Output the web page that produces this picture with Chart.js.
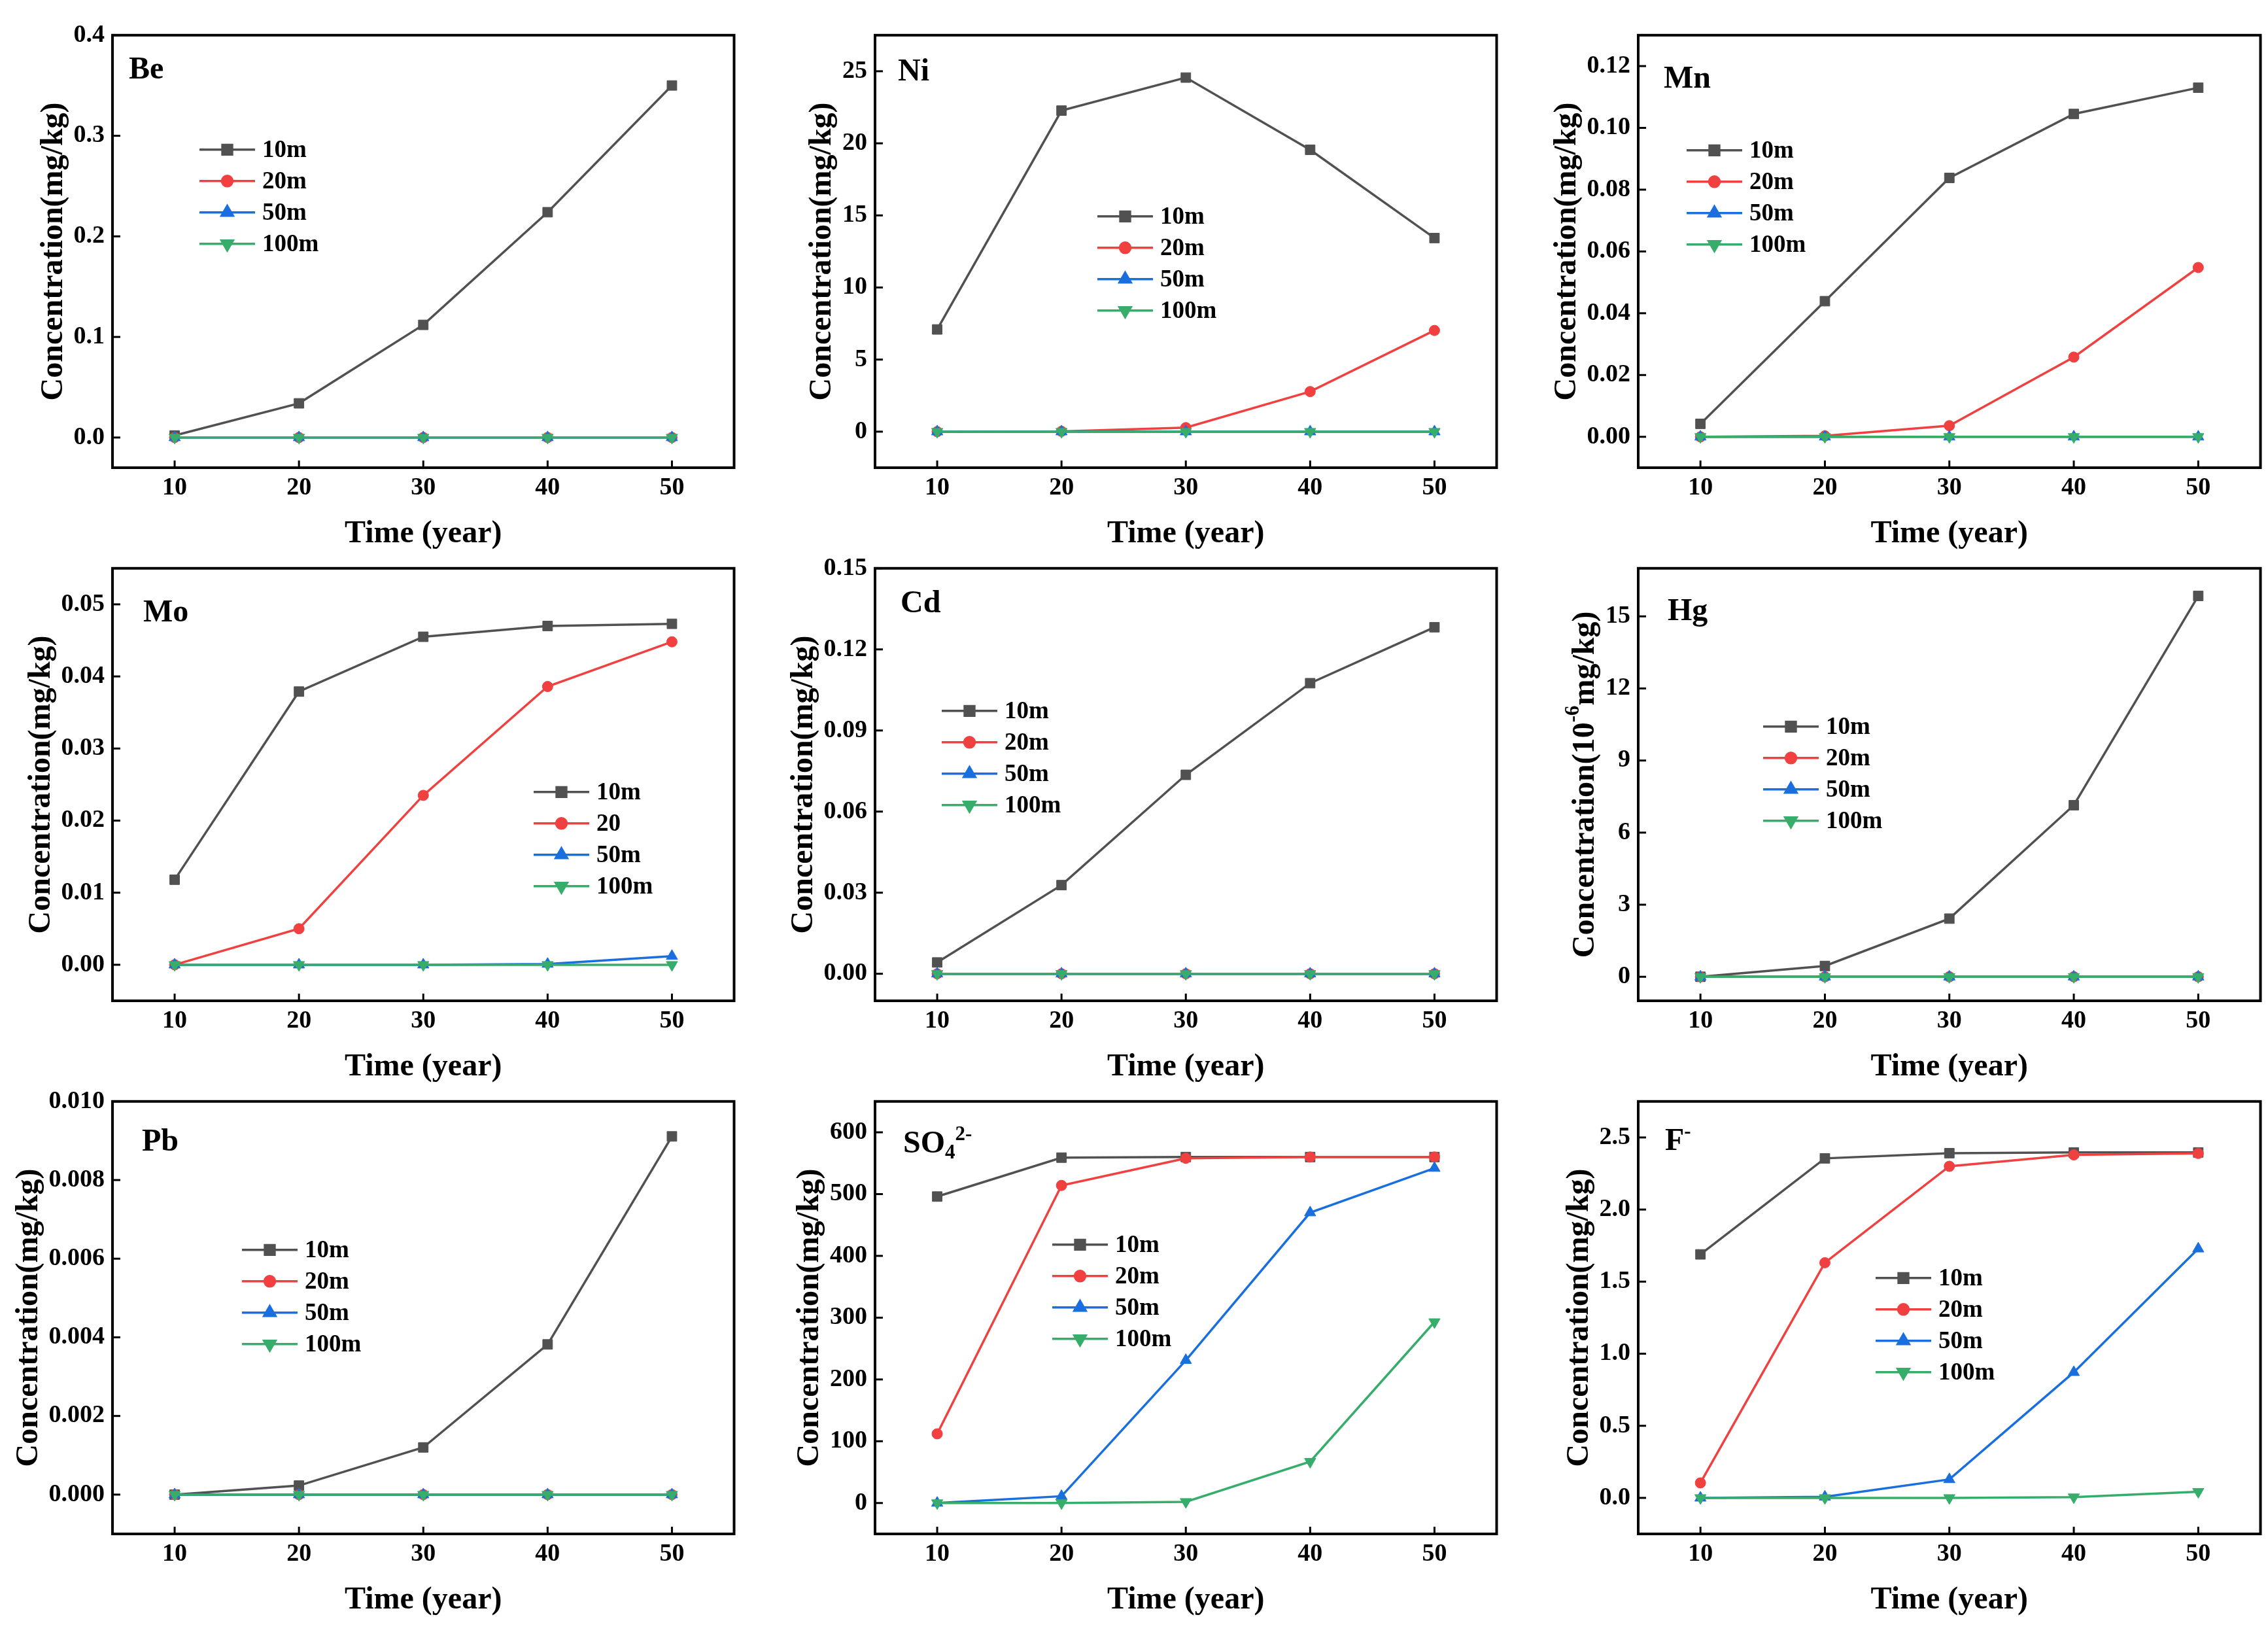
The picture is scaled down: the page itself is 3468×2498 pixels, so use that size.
<!DOCTYPE html>
<html>
<head>
<meta charset="utf-8">
<title>Concentration vs time</title>
<script src="https://cdn.jsdelivr.net/npm/chart.js@4.4.0/dist/chart.umd.min.js"></script>
<style>
  html, body { margin: 0; padding: 0; background: #fff; }
  body { width: 3468px; height: 2498px; position: relative; overflow: hidden; }
  canvas { position: absolute; }
</style>
</head>
<body>
<script>
// ---- data ----
const years = [10, 20, 30, 40, 50];
const xTicks = [10, 20, 30, 40, 50];
const xRange = [5, 55];
const depths = ['10m', '20m', '50m', '100m'];
const moLabels = ['10m', '20', '50m', '100m'];

const be10 = [0.002, 0.034, 0.112, 0.224, 0.350];
const be20 = [0, 0, 0, 0, 0];
const be50 = [0, 0, 0, 0, 0];
const be100 = [0, 0, 0, 0, 0];
const beTicks = ['0.0', '0.1', '0.2', '0.3', '0.4'];
const beRange = [-0.03, 0.4];

const ni10 = [7.09, 22.27, 24.56, 19.55, 13.43];
const ni20 = [0, 0.02, 0.28, 2.78, 7.02];
const ni50 = [0, 0, 0, 0, 0];
const ni100 = [0, 0, 0, 0, 0];
const niTicks = ['0', '5', '10', '15', '20', '25'];
const niRange = [-2.5, 27.5];

const mn10 = [0.0042, 0.0439, 0.0838, 0.1045, 0.1130];
const mn20 = [0, 0.0003, 0.0036, 0.0258, 0.0548];
const mn50 = [0, 0, 0, 0, 0];
const mn100 = [0, 0, 0, 0, 0];
const mnTicks = ['0.00', '0.02', '0.04', '0.06', '0.08', '0.10', '0.12'];
const mnRange = [-0.01, 0.13];

const mo10 = [0.0118, 0.0379, 0.0455, 0.0470, 0.0473];
const mo20 = [0, 0.0050, 0.0235, 0.0386, 0.0448];
const mo50 = [0, 0, 0, 0.0001, 0.0012];
const mo100 = [0, 0, 0, 0, 0];
const moTicks = ['0.00', '0.01', '0.02', '0.03', '0.04', '0.05'];
const moRange = [-0.005, 0.055];

const cd10 = [0.0042, 0.0328, 0.0736, 0.1075, 0.1282];
const cd20 = [0, 0, 0, 0, 0];
const cd50 = [0, 0, 0, 0, 0];
const cd100 = [0, 0, 0, 0, 0];
const cdTicks = ['0.00', '0.03', '0.06', '0.09', '0.12', '0.15'];
const cdRange = [-0.01, 0.15];

const hg10 = [0, 0.45, 2.42, 7.14, 15.85];
const hg20 = [0, 0, 0, 0, 0];
const hg50 = [0, 0, 0, 0, 0];
const hg100 = [0, 0, 0, 0, 0];
const hgTicks = ['0', '3', '6', '9', '12', '15'];
const hgRange = [-1, 17];

const pb10 = [0, 0.00023, 0.0012, 0.00382, 0.00911];
const pb20 = [0, 0, 0, 0, 0];
const pb50 = [0, 0, 0, 0, 0];
const pb100 = [0, 0, 0, 0, 0];
const pbTicks = ['0.000', '0.002', '0.004', '0.006', '0.008', '0.010'];
const pbRange = [-0.001, 0.010];

const so10 = [496, 559, 560, 560, 560];
const so20 = [112, 514, 558, 560, 560];
const so50 = [0, 11, 231, 470, 542];
const so100 = [0, 0, 2, 67, 293];
const soTicks = ['0', '100', '200', '300', '400', '500', '600'];
const soRange = [-50, 650];

const f10 = [1.689, 2.355, 2.391, 2.396, 2.396];
const f20 = [0.104, 1.631, 2.300, 2.379, 2.389];
const f50 = [0, 0.007, 0.128, 0.871, 1.728];
const f100 = [0, 0, 0, 0.005, 0.043];
const fTicks = ['0.0', '0.5', '1.0', '1.5', '2.0', '2.5'];
const fRange = [-0.25, 2.75];

// ---- layout / style ----
const FAMILY = '"Liberation Serif", "Times New Roman", Times, serif';
const colors = ['#515151', '#F14040', '#1A6FDF', '#37AD6B'];
const marks = [
  {style: 'rect', r: 10.5, rot: 0},
  {style: 'circle', r: 8, rot: 0},
  {style: 'triangle', r: 10, rot: 0},
  {style: 'triangle', r: 10, rot: 180}
];
const colLeft = [0, 1160, 2308];
const plotLeft = [172, 1338, 2505];
const plotRight = [1124, 2290, 3458];
const rowTop = [54, 869, 1684];
const plotH = 666;
const padRight = 10, xAxisH = 135;

const concTitle = [{t: 'Concentration(mg/kg)'}];

const panels = [
  {row: 0, col: 0, name: [{t: 'Be'}], nameAt: [25, 66], series: [be10, be20, be50, be100], labels: depths, ticks: beTicks, range: beRange, legendAt: [133, 175], yTitle: concTitle},
  {row: 0, col: 1, name: [{t: 'Ni'}], nameAt: [35, 69], series: [ni10, ni20, ni50, ni100], labels: depths, ticks: niTicks, range: niRange, legendAt: [340, 277], yTitle: concTitle},
  {row: 0, col: 2, name: [{t: 'Mn'}], nameAt: [39, 80], series: [mn10, mn20, mn50, mn100], labels: depths, ticks: mnTicks, range: mnRange, legendAt: [74, 176], yTitle: concTitle},
  {row: 1, col: 0, name: [{t: 'Mo'}], nameAt: [47, 81], series: [mo10, mo20, mo50, mo100], labels: moLabels, ticks: moTicks, range: moRange, legendAt: [644, 342], yTitle: concTitle},
  {row: 1, col: 1, name: [{t: 'Cd'}], nameAt: [39, 67], series: [cd10, cd20, cd50, cd100], labels: depths, ticks: cdTicks, range: cdRange, legendAt: [102, 218], yTitle: concTitle},
  {row: 1, col: 2, name: [{t: 'Hg'}], nameAt: [45, 79], series: [hg10, hg20, hg50, hg100], labels: depths, ticks: hgTicks, range: hgRange, legendAt: [191, 242],
    yTitle: [{t: 'Concentration(10'}, {t: '-6', sup: true}, {t: 'mg/kg)'}]},
  {row: 2, col: 0, name: [{t: 'Pb'}], nameAt: [45, 75], series: [pb10, pb20, pb50, pb100], labels: depths, ticks: pbTicks, range: pbRange, legendAt: [198, 227], yTitle: concTitle},
  {row: 2, col: 1, name: [{t: 'SO'}, {t: '4', sub: true}, {t: '2-', sup: true}], nameAt: [43, 78], series: [so10, so20, so50, so100], labels: depths, ticks: soTicks, range: soRange, legendAt: [271, 219], yTitle: concTitle},
  {row: 2, col: 2, name: [{t: 'F'}, {t: '-', sup: true}], nameAt: [41, 74], series: [f10, f20, f50, f100], labels: depths, ticks: fTicks, range: fRange, legendAt: [363, 270], yTitle: concTitle}
];

function font(size) { return 'bold ' + size + 'px ' + FAMILY; }

// draws text with sub/superscript pieces, returns width
function drawPieces(ctx, pieces, x, y, size, dry) {
  let cx = x;
  pieces.forEach(pc => {
    const small = pc.sub || pc.sup;
    const s = small ? Math.round(size * 0.65) : size;
    ctx.font = font(s);
    const dy = pc.sub ? size * 0.2 : pc.sup ? -size * 0.4 : 0;
    if (!dry) ctx.fillText(pc.t, cx, y + dy);
    cx += ctx.measureText(pc.t).width;
  });
  return cx - x;
}

function marker(ctx, i, x, y) {
  const m = marks[i];
  if (Chart.helpers && Chart.helpers.drawPoint) {
    Chart.helpers.drawPoint(ctx, {pointStyle: m.style, radius: m.r, rotation: m.rot, borderWidth: 1}, x, y);
  }
}

const framePlugin = {
  id: 'frame',
  afterDraw(chart) {
    const p = chart.options.plugins.frame;
    const {ctx, chartArea: a} = chart;
    const xs = chart.scales.x, ys = chart.scales.y;
    ctx.save();
    ctx.strokeStyle = '#000';
    ctx.lineWidth = 4;
    ctx.strokeRect(a.left, a.top, a.right - a.left, a.bottom - a.top);

    // inward ticks on bottom and left
    ctx.lineWidth = 3;
    xs.ticks.forEach(t => {
      const px = xs.getPixelForValue(t.value);
      ctx.beginPath(); ctx.moveTo(px, a.bottom); ctx.lineTo(px, a.bottom - 11); ctx.stroke();
    });
    ys.ticks.forEach(t => {
      const py = ys.getPixelForValue(t.value);
      ctx.beginPath(); ctx.moveTo(a.left, py); ctx.lineTo(a.left + 12, py); ctx.stroke();
    });

    // panel name
    ctx.fillStyle = '#000';
    ctx.textAlign = 'left';
    ctx.textBaseline = 'alphabetic';
    drawPieces(ctx, p.name, a.left + p.nameAt[0], a.top + p.nameAt[1], 48);

    // legend
    const lx = a.left + p.legendAt[0];
    chart.data.datasets.forEach((ds, i) => {
      const ly = a.top + p.legendAt[1] + i * 48;
      ctx.strokeStyle = ds.borderColor;
      ctx.fillStyle = ds.borderColor;
      ctx.lineWidth = 3.5;
      ctx.beginPath(); ctx.moveTo(lx, ly); ctx.lineTo(lx + 85, ly); ctx.stroke();
      marker(ctx, i, lx + 42.5, ly);
      ctx.fillStyle = '#000';
      ctx.font = font(37);
      ctx.textBaseline = 'middle';
      ctx.fillText(ds.label, lx + 96, ly + 2);
    });

    // y axis title, placed left of the widest tick label
    ctx.font = font(38);
    let widest = 0;
    p.ticks.forEach(s => { widest = Math.max(widest, ctx.measureText(s).width); });
    const cx = a.left - 12 - widest - 30;
    const cy = (a.top + a.bottom) / 2;
    ctx.translate(cx, cy);
    ctx.rotate(-Math.PI / 2);
    ctx.fillStyle = '#000';
    ctx.textBaseline = 'middle';
    const w = drawPieces(ctx, p.yTitle, 0, 0, 48, true);
    drawPieces(ctx, p.yTitle, -w / 2, 0, 48);
    ctx.restore();
  }
};

panels.forEach(p => {
  const cv = document.createElement('canvas');
  const left = colLeft[p.col];
  const width = plotRight[p.col] + padRight - left;
  let height = plotH + xAxisH + 30;
  cv.width = width;
  cv.height = height;
  cv.style.left = left + 'px';
  cv.style.width = width + 'px';
  cv.style.height = height + 'px';
  document.body.appendChild(cv);

  const yWidth = plotLeft[p.col] - left;
  const tickVals = p.ticks.map(parseFloat);

  const chart = new Chart(cv, {
    type: 'line',
    data: {
      datasets: p.series.map((vals, i) => ({
        label: p.labels[i],
        data: years.map((x, k) => ({x: x, y: vals[k]})),
        borderColor: colors[i],
        backgroundColor: colors[i],
        pointBackgroundColor: colors[i],
        pointBorderColor: colors[i],
        pointBorderWidth: 1,
        pointStyle: marks[i].style,
        pointRadius: marks[i].r,
        pointRotation: marks[i].rot,
        borderWidth: 3.5,
        tension: 0,
        order: 3 - i
      }))
    },
    options: {
      responsive: false,
      animation: false,
      layout: {padding: {top: 0, right: padRight, left: 0, bottom: 0}},
      plugins: {
        legend: {display: false},
        tooltip: {enabled: false},
        frame: p
      },
      scales: {
        x: {
          type: 'linear',
          min: xRange[0],
          max: xRange[1],
          afterBuildTicks: s => { s.ticks = xTicks.map(v => ({value: v})); },
          afterFit: s => { s.height = xAxisH; },
          grid: {display: false, drawTicks: false},
          border: {display: false},
          ticks: {padding: 8, color: '#000', autoSkip: false, maxRotation: 0,
                  font: {family: FAMILY, size: 38, weight: 'bold'},
                  callback: v => String(v)},
          title: {display: true, text: 'Time (year)', color: '#000',
                  font: {family: FAMILY, size: 48, weight: 'bold'},
                  padding: {top: 0, bottom: 5}}
        },
        y: {
          type: 'linear',
          min: p.range[0],
          max: p.range[1],
          afterBuildTicks: s => { s.ticks = tickVals.map(v => ({value: v})); },
          afterFit: s => { s.width = yWidth; },
          grid: {display: false, drawTicks: false},
          border: {display: false},
          ticks: {padding: 12, color: '#000', autoSkip: false,
                  font: {family: FAMILY, size: 38, weight: 'bold'},
                  callback: (v, i) => p.ticks[i]}
        }
      }
    },
    plugins: [framePlugin]
  });

  // the top tick label adds its own overhang above the plot; size the canvas so the plot box is exactly plotH tall
  const top = chart.chartArea.top;
  height = Math.round(plotH + xAxisH + top);
  chart.resize(width, height);
  cv.style.top = (rowTop[p.row] - chart.chartArea.top) + 'px';
});
</script>
</body>
</html>
